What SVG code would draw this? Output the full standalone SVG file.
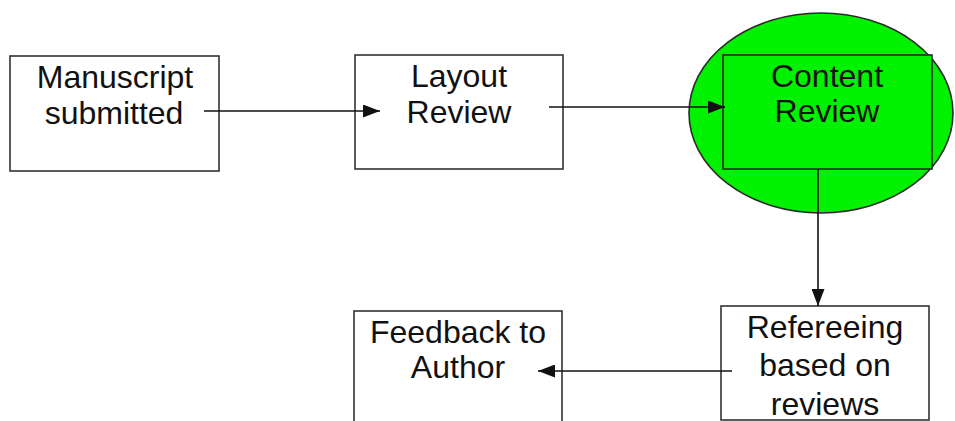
<svg xmlns="http://www.w3.org/2000/svg" width="955" height="421" viewBox="0 0 955 421">
<style>
.box{fill:#fff;stroke:#333;stroke-width:1.6}
.gbox{fill:#00f200;stroke:#2a2a2a;stroke-width:1.6}
.t{font-family:"Liberation Sans",Arial,sans-serif;font-size:32px;fill:#111;text-anchor:middle}
.c{stroke:#111;stroke-width:1.6;fill:none}
</style>
<defs>
<marker id="ah" viewBox="0 0 10 10" refX="10" refY="5" markerWidth="17" markerHeight="13" markerUnits="userSpaceOnUse" orient="auto" preserveAspectRatio="none">
<path d="M0,0 L10,5 L0,10 z" fill="#111"/>
</marker>
</defs>
<rect width="955" height="421" fill="#fff"/>
<g id="manuscript">
<rect class="box" x="10" y="56" width="209" height="115"/>
<text class="t" x="115" y="88">Manuscript</text>
<text class="t" x="114" y="124">submitted</text>
</g>
<g id="layout">
<rect class="box" x="355" y="55" width="208" height="114"/>
<text class="t" x="459" y="87">Layout</text>
<text class="t" x="459" y="123">Review</text>
</g>
<g id="content">
<ellipse class="gbox" cx="821" cy="113" rx="132" ry="100"/>
<rect class="gbox" x="723" y="55" width="209" height="114"/>
<text class="t" x="827" y="87">Content</text>
<text class="t" x="827" y="122">Review</text>
</g>
<g id="refereeing">
<rect class="box" x="721" y="306" width="208" height="114"/>
<text class="t" x="825" y="338">Refereeing</text>
<text class="t" x="825" y="376">based on</text>
<text class="t" x="825" y="415">reviews</text>
</g>
<g id="feedback">
<rect class="box" x="354" y="311" width="208" height="112"/>
<text class="t" x="458" y="343">Feedback to</text>
<text class="t" x="458" y="378">Author</text>
</g>
<g id="connectors">
<line class="c" x1="204" y1="111" x2="380" y2="111" marker-end="url(#ah)"/>
<line class="c" x1="549" y1="107" x2="725" y2="107" marker-end="url(#ah)"/>
<line class="c" x1="818" y1="169" x2="818" y2="306" marker-end="url(#ah)"/>
<line class="c" x1="732" y1="371" x2="538" y2="371" marker-end="url(#ah)"/>
</g>
</svg>
